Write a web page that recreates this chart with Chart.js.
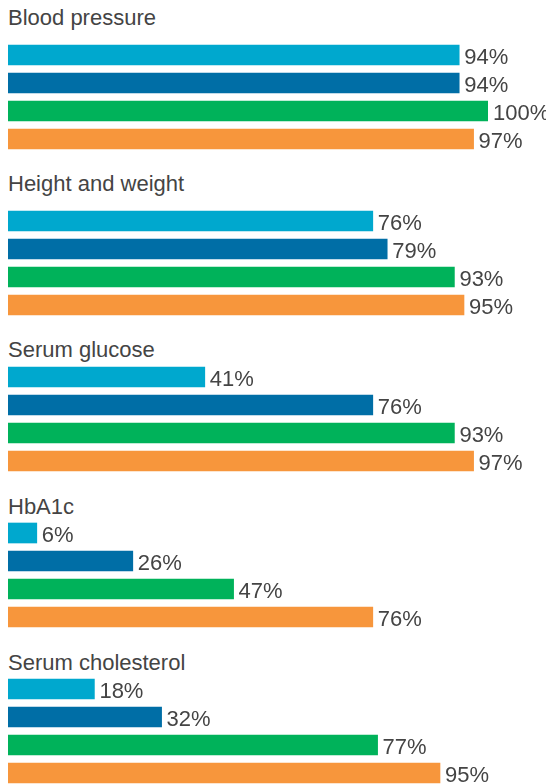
<!DOCTYPE html>
<html>
<head>
<meta charset="utf-8">
<script src="https://cdn.jsdelivr.net/npm/chart.js@4/dist/chart.umd.min.js"></script>
<style>
  body { margin: 0; background: #fff; width: 546px; height: 784px; overflow: hidden; position: relative; }
  .title { position: absolute; left: 8px; font: 22px/22px "Liberation Sans", Arial, sans-serif; color: #444; white-space: nowrap; }
  canvas { position: absolute; left: 0; }
</style>
</head>
<body>
<script>
// categories (one group per measurement)
var categories = ["Blood pressure", "Height and weight", "Serum glucose", "HbA1c", "Serum cholesterol"];
// four series, one bar each per group (bar lengths, %)
var series1 = [94, 76, 41, 6, 18];
var series2 = [94, 79, 76, 26, 32];
var series3 = [100, 93, 93, 47, 77];
var series4 = [97, 95, 97, 76, 90];
// printed labels (the last orange bar is drawn shorter than its label says)
var labels1 = ["94%", "76%", "41%", "6%", "18%"];
var labels2 = ["94%", "79%", "76%", "26%", "32%"];
var labels3 = ["100%", "93%", "93%", "47%", "77%"];
var labels4 = ["97%", "95%", "97%", "76%", "95%"];
var barColors = ["#00a8ce", "#006ea6", "#00b25a", "#f7963c"];

// where each group sits on the page
var titleTops = [7, 173, 339, 496, 652];
var chartTops = [41, 207, 363, 519, 675];

// write the value after each bar
var valueLabels = {
	id: "valueLabels",
	afterDatasetsDraw: function(chart) {
		var ctx = chart.ctx;
		var texts = chart.options.plugins.valueLabels.texts;
		ctx.save();
		ctx.font = '22px "Liberation Sans", Arial, sans-serif';
		ctx.fillStyle = "#444";
		ctx.textAlign = "left";
		ctx.textBaseline = "alphabetic";
		chart.getDatasetMeta(0).data.forEach(function(bar, i) {
			ctx.fillText(texts[i], bar.x + 5, bar.y + 9);
		});
		ctx.restore();
	}
};

for (var i = 0; i < categories.length; i++) {
	var title = document.createElement("div");
	title.className = "title";
	title.style.top = titleTops[i] + "px";
	title.textContent = categories[i];
	document.body.appendChild(title);

	var canvas = document.createElement("canvas");
	canvas.width = 546;
	canvas.height = 112;
	canvas.style.top = chartTops[i] + "px";
	document.body.appendChild(canvas);

	new Chart(canvas, {
		type: "bar",
		data: {
			labels: ["1", "2", "3", "4"],
			datasets: [{
				data: [series1[i], series2[i], series3[i], series4[i]],
				backgroundColor: barColors,
				barThickness: 20,
				borderWidth: 0
			}]
		},
		options: {
			indexAxis: "y",
			responsive: false,
			animation: false,
			layout: { padding: { left: 8, right: 58, top: 0, bottom: 0 } },
			plugins: {
				legend: { display: false },
				tooltip: { enabled: false },
				valueLabels: { texts: [labels1[i], labels2[i], labels3[i], labels4[i]] }
			},
			scales: {
				x: { display: false, min: 0, max: 100 },
				y: { display: false }
			}
		},
		plugins: [valueLabels]
	});
}
</script>
</body>
</html>
